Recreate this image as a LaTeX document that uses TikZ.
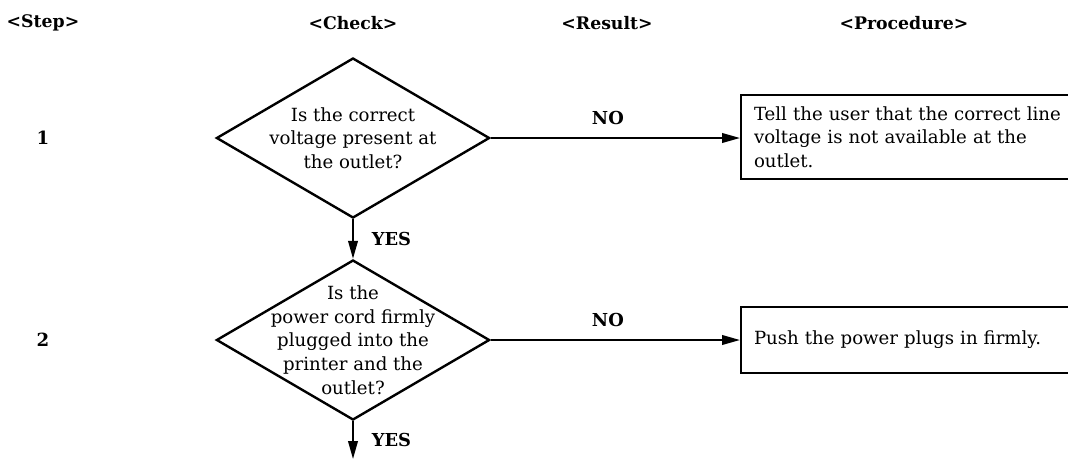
\documentclass[tikz,border=0pt]{standalone}
\usepackage{fontspec}
\setmainfont{DejaVu Serif}
\usetikzlibrary{arrows.meta,positioning,shapes.geometric}

\begin{document}
\begin{tikzpicture}[
  every node/.style={font=\fontsize{12.9}{16.8}\selectfont},
  hd/.style={font=\fontsize{12.3}{14}\selectfont\bfseries},
  num/.style={font=\fontsize{12.9}{14}\selectfont\bfseries},
  chk/.style={draw=black,diamond,line width=1.7pt,align=center,inner sep=-1.2cm,minimum width=6.83cm,minimum height=4.0cm},
  proc/.style={draw=black,line width=1.7pt,align=left,anchor=west,inner xsep=0.32cm,inner ysep=0.1cm,text width=8.4cm},
  lbl/.style={font=\fontsize{12.7}{14}\selectfont\bfseries},
  ar/.style={-{Triangle[length=4.5mm,width=2.4mm]},line width=1.4pt}]
\useasboundingbox (0,0) rectangle (26.7,-11.475);
\clip (0,0) rectangle (26.7,-11.475);
\node[hd] (hstep) at (1.075,-0.575) {<Step>};
\node[hd] (hchk) at (8.825,-0.575) {<Check>};
\node[hd] (hres) at (15.175,-0.575) {<Result>};
\node[hd] (hproc) at (22.6,-0.575) {<Procedure>};
\node[num] (n1) at (1.075,-3.45) {1};
\node[num] (n2) at (1.075,-8.5) {2};
\node[chk] (c1) at (8.825,-3.45) {Is the correct\\voltage present at\\the outlet?};
\node[chk] (c2) at (8.825,-8.5) {Is the\\power cord firmly\\plugged into the\\printer and the\\outlet?};
\node[proc,minimum height=2.1cm] (p1) at (18.5,-3.425) {Tell the user that the correct line\\voltage is not available at the\\outlet.};
\node[proc,minimum height=1.65cm] (p2) at (18.5,-8.5) {Push the power plugs in firmly.};
\coordinate (out) at (8.825,-11.475);
\draw[ar] (c1.east) -- (c1.east -| p1.west) node[lbl,pos=0.47,above=0.2cm] (no1) {NO};
\draw[ar] (c2.east) -- (c2.east -| p2.west) node[lbl,pos=0.47,above=0.2cm] (no2) {NO};
\draw[ar] (c1.south) -- (c2.north) node[lbl,midway,right=0.33cm] (yes1) {YES};
\draw[ar] (c2.south) -- (out) node[lbl,midway,right=0.33cm] (yes2) {YES};
\end{tikzpicture}
\end{document}
